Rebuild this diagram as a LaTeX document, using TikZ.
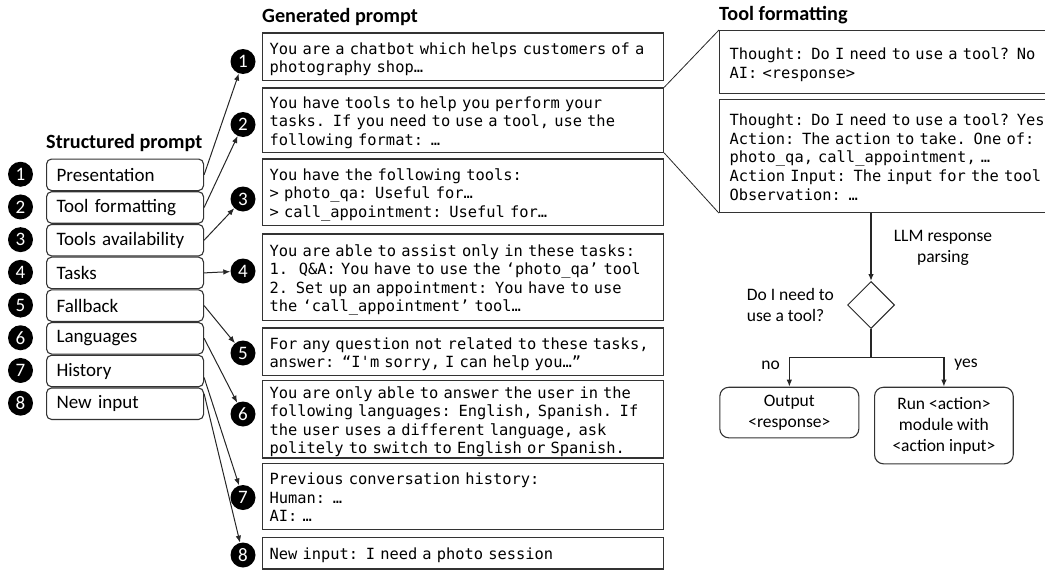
\documentclass[tikz,border=0pt]{standalone}
\usepackage{fontspec}
\setmainfont{Carlito}
\setmonofont{DejaVu Sans Mono}
\usetikzlibrary{shapes.geometric,arrows.meta,calc}

% lines of a code block, set without breaking and sitting a little low
\newcommand\mlines[1]{\raisebox{-3pt}[\height][\depth]{\begin{tabular}{@{}l@{}}#1\end{tabular}}}

\begin{document}
\begin{tikzpicture}[x=1pt,y=-1pt,
  edge/.style={draw=black!85,line width=1pt},
  conn/.style={edge,-{Latex[length=7pt,width=5.5pt]}},
  num/.style={circle,fill=black,text=white,minimum size=25pt,inner sep=0pt,
    font=\fontsize{19}{19}\selectfont},
  part/.style={draw=black!80,line width=1.1pt,rounded corners=5pt,anchor=north west,
    minimum height=31.5pt,text width=137pt,inner xsep=10pt,inner ysep=2pt,align=left,
    font=\fontsize{19}{22}\selectfont},
  gbox/.style={draw=black!80,line width=1.2pt,anchor=north west,text width=387pt,
    inner xsep=7pt,inner ysep=1pt,align=left,
    font=\ttfamily\fontsize{15.4}{18.6}\selectfont},
  tbox/.style={gbox,text width=340pt,inner xsep=10pt},
  head/.style={anchor=west,inner sep=0pt,font=\bfseries\fontsize{20.2}{23}\selectfont},
  flowbox/.style={draw=black!80,line width=1.1pt,rounded corners=9pt,anchor=north west,
    align=center,font=\fontsize{17.5}{21}\selectfont},
  lab/.style={font=\fontsize{17.5}{21}\selectfont,inner sep=0pt}
]
\useasboundingbox (0,0) rectangle (1045,573);
\clip (0,0) rectangle (1045,573);

% headings
\node[head] (hs) at (46,143) {Structured prompt};
\node[head] (hg) at (262,16.5) {Generated prompt};
\node[head] (ht) at (719,15.5) {Tool formatting};

% structured prompt parts with their numbers
\foreach \i/\t in {1/Presentation,2/Tool formatting,3/Tools availability,4/Tasks,
                   5/Fallback,6/Languages,7/History,8/New input} {
  \node[part] (p\i) at (46,{158.5+32.7*(\i-1)}) {\t};
  \node[num] (m\i) at (20.5,{174.25+32.7*(\i-1)}) {\i};
}

% generated prompt blocks
\node[gbox,minimum height=47.7pt] (g1) at (262,32.3)
  {\mlines{You are a chatbot which helps customers of a\\photography shop…}};
\node[gbox,minimum height=64.4pt] (g2) at (262,87.3)
  {\mlines{You have tools to help you perform your\\tasks. If you need to use a tool, use the\\following format: …}};
\node[gbox,minimum height=66.7pt] (g3) at (262,158.3)
  {\mlines{You have the following tools:\\> photo\_qa: Useful for…\\> call\_appointment: Useful for…}};
\node[gbox,minimum height=86.7pt] (g4) at (262,233.3)
  {\mlines{You are able to assist only in these tasks:\\1.\hspace{3pt} Q\&A: You have to use the ‘photo\_qa’ tool\\2. Set up an appointment: You have to use\\the ‘call\_appointment’ tool…}};
\node[gbox,minimum height=47.7pt] (g5) at (262,327.3)
  {\mlines{For any question not related to these tasks,\\answer: “I\textquotesingle m sorry, I can help you…”}};
\node[gbox,minimum height=77.3pt] (g6) at (262,380)
  {\mlines{You are only able to answer the user in the\\following languages: English, Spanish. If\\the user uses a different language, ask\\politely to switch to English or Spanish.}};
\node[gbox,minimum height=66.3pt] (g7) at (262,462.7)
  {\mlines{Previous conversation history:\\Human: …\\AI: …}};
\node[gbox,minimum height=31.6pt] (g8) at (262,536.7)
  {\mlines{New input: I need a photo session}};

% numbers of the generated blocks
\node[num] (n1) at (243,61.5) {1};
\node[num] (n2) at (243,124.5) {2};
\node[num] (n3) at (243,199) {3};
\node[num] (n4) at (243,271) {4};
\node[num] (n5) at (243,353) {5};
\node[num] (n6) at (243,414) {6};
\node[num] (n7) at (243,497.5) {7};
\node[num] (n8) at (243,555) {8};

% parts -> blocks
\draw[conn] (p1.east) -- (n1);
\draw[conn] (p2.east) -- (n2);
\draw[conn] (p3.east) -- (n3);
\draw[conn] (p4.east) -- (n4);
\draw[conn] (p5.east) -- (n5);
\draw[conn] (p6.east) -- (n6);
\draw[conn] ([yshift=-6.5pt]p7.east) -- (n7);
\draw[conn] ([yshift=10pt]p8.east) -- (n8);

% tool formatting detail
\node[tbox,minimum height=63pt] (tA) at (719,30)
  {\mlines{Thought: Do I need to use a tool? No\\AI: <response>}};
\node[tbox,minimum height=113pt] (tB) at (719,99)
  {\mlines{Thought: Do I need to use a tool? Yes\\Action: The action to take. One of:\\photo\_qa, call\_appointment, …\\Action Input: The input for the tool\\Observation: …}};
\draw[draw=black!85,line width=0.8pt] (g2.north east) -- (tA.north west);
\draw[draw=black!85,line width=0.8pt] (g2.south east) -- (tB.south west);

% response parsing flow
\node[diamond,draw=black!85,line width=1pt,minimum width=47pt,minimum height=47pt,inner sep=0pt] (dia) at (871,305) {};
\node[flowbox,minimum width=139pt,minimum height=50.6pt] (out) at (719.3,386.7) {Output\\<response>};
\node[flowbox,minimum width=138.7pt,minimum height=76.6pt] (run) at (874,386.7) {Run <action>\\module with\\<action input>};
\coordinate (split) at (871,357.3);
\draw[conn,line width=1.3pt] (dia.north |- tB.south) -- (dia.north);
\draw[edge,line width=1.3pt] (dia.south) -- (split);
\draw[conn,line width=1.3pt] (split) -| (out.north);
\draw[conn,line width=1.3pt] (split) -| (run.north);

\node[lab,align=center] (llm) at (943,248.3) {LLM response\\parsing};
\node[lab,align=left,anchor=west] (ask) at (746.7,305) {Do I need to\\use a tool?};
\node[lab] (no) at (770.7,365) {no};
\node[lab] (yes) at (966,365) {yes};
\end{tikzpicture}
\end{document}
